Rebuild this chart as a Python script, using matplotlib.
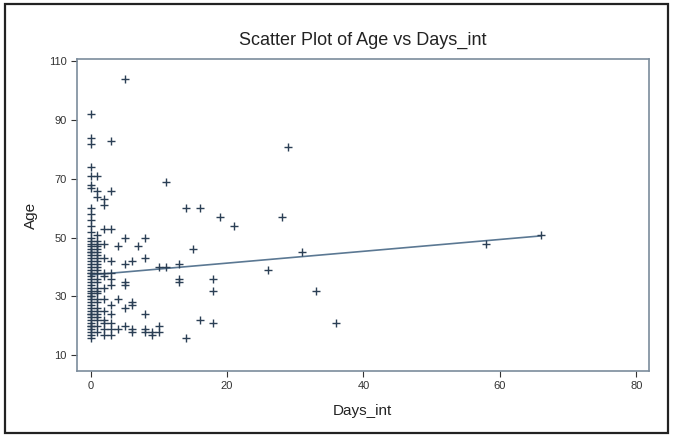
import numpy as np
import matplotlib.pyplot as plt
from matplotlib.patches import Rectangle

plt.rcParams['font.family'] = ['Liberation Sans', 'DejaVu Sans']

# Days_int / Age pairs
days_zero = [0] * 52
age_zero = [92, 84, 82, 74, 71, 68, 67, 60, 58, 56, 54, 52, 50, 49, 48, 47, 46, 45,
            44, 43, 42, 41, 40, 39, 38, 37, 36, 35, 34, 33, 32, 31, 30, 29, 28, 27,
            26, 25, 24, 23, 22, 21, 20, 19, 18, 17, 16, 45, 38, 30, 24, 20]

days_one = [1] * 30
age_one = [71, 66, 64, 51, 49, 48, 47, 46, 45, 44, 43, 42, 41, 40, 39, 38, 36, 35,
           33, 32, 31, 29, 28, 26, 25, 24, 23, 22, 20, 18]

days_near = [2, 2, 2, 2, 2, 2, 2, 2, 2, 2, 2, 2, 2, 2,
             3, 3, 3, 3, 3, 3, 3, 3, 3, 3, 3, 3,
             4, 4, 4, 5, 5, 5, 5, 5, 5, 5, 6, 6, 6, 6, 6,
             7, 8, 8, 8, 8, 8, 9, 9, 10, 10, 10, 11, 11]
age_near = [63, 61, 53, 48, 43, 38, 37, 33, 29, 25, 22, 21, 19, 17,
            83, 66, 53, 42, 38, 36, 34, 27, 24, 21, 19, 17,
            47, 29, 19, 104, 50, 41, 35, 34, 26, 20, 42, 28, 27, 19, 18,
            47, 50, 43, 24, 19, 18, 18, 17, 40, 20, 18, 69, 40]

days_far = [13, 13, 13, 14, 14, 15, 16, 16, 18, 18, 18, 19, 21, 26, 28, 29, 31,
            33, 36, 58, 66]
age_far = [41, 36, 35, 60, 16, 46, 60, 22, 36, 32, 21, 57, 54, 39, 57, 81, 45,
           32, 21, 48, 51]

fit_days = [0, 66]
fit_age = [37.3, 50.6]

days = days_zero + days_one + days_near + days_far
age = age_zero + age_one + age_near + age_far

fig = plt.figure(figsize=(6.75, 4.38), dpi=100)
ax = fig.add_axes([0.114, 0.153, 0.847, 0.712])

ax.scatter(days, age, marker='+', s=40, linewidths=1.0, color='#2b3f55', zorder=3)
ax.plot(fit_days, fit_age, color='#5b7893', lw=1.2, zorder=2)

ax.set_xlim(-2, 81.8)
ax.set_ylim(4.6, 110.8)
ax.set_xticks([0, 20, 40, 60, 80])
ax.set_yticks([10, 30, 50, 70, 90, 110])
ax.tick_params(labelsize=8, colors='#333333', length=4, width=0.8)
for t in ax.xaxis.get_major_ticks() + ax.yaxis.get_major_ticks():
    t.tick1line.set_color('#7c8c9c')
for s in ax.spines.values():
    s.set_color('#7c8c9c')
    s.set_linewidth(1.2)

ax.set_xlabel('Days_int', fontsize=11, color='#222222', labelpad=9)
ax.set_ylabel('Age', fontsize=11, color='#222222', labelpad=8)
ax.set_title('Scatter Plot of Age vs Days_int', fontsize=13, color='#222222', pad=10)

fig.patches.append(Rectangle((0.008, 0.012), 0.981, 0.978, transform=fig.transFigure,
                             fill=False, edgecolor='#222222', lw=1.6))

fig.savefig('out.png', dpi=100)
